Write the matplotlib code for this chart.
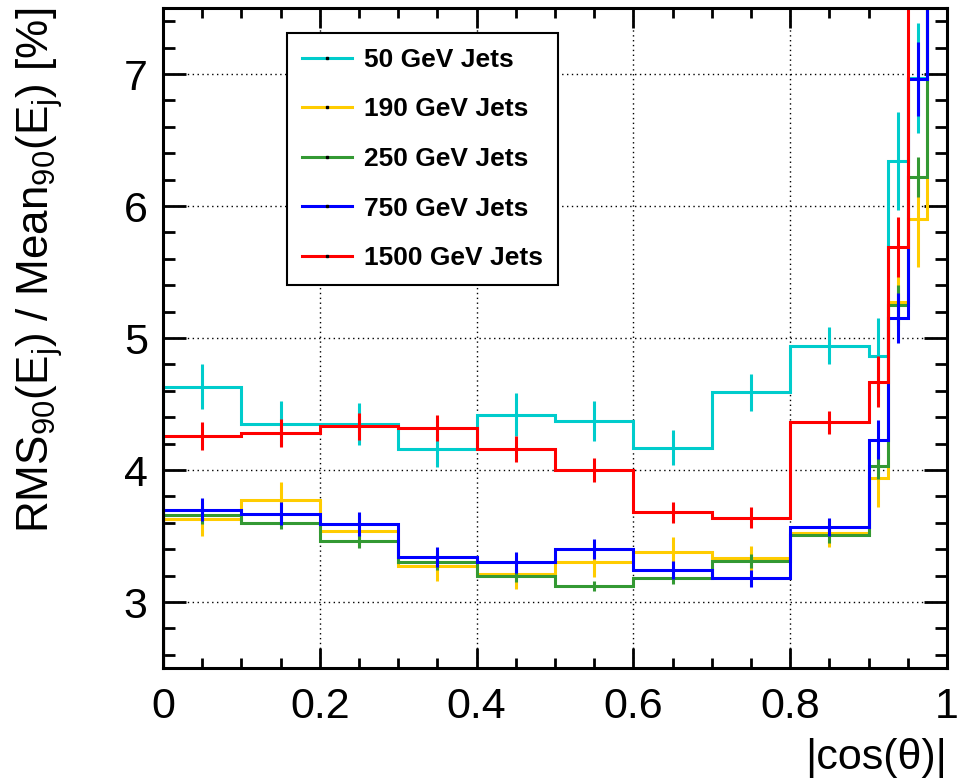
import numpy as np
import matplotlib
matplotlib.use("Agg")
import matplotlib.pyplot as plt
from matplotlib.lines import Line2D
from matplotlib.ticker import MultipleLocator, FuncFormatter

plt.rcParams['font.family'] = ['Liberation Sans', 'DejaVu Sans']
plt.rcParams['mathtext.fontset'] = 'custom'
plt.rcParams['mathtext.rm'] = 'Liberation Sans'
plt.rcParams['mathtext.it'] = 'Liberation Sans:italic'

# bin edges in |cos(theta)|, finer binning in the forward region
edges = [0.0, 0.1, 0.2, 0.3, 0.4, 0.5, 0.6, 0.7, 0.8, 0.9, 0.925, 0.95, 0.975, 1.0]

labels = ["50 GeV Jets", "190 GeV Jets", "250 GeV Jets", "750 GeV Jets", "1500 GeV Jets"]
colors = ["#00CCCC", "#FFCC00", "#339933", "#0000FF", "#FF0000"]

res_50 = [4.63, 4.35, 4.35, 4.16, 4.42, 4.37, 4.17, 4.59, 4.94, 4.86, 6.34, 6.97, 8.0]
err_50 = [0.17, 0.17, 0.16, 0.14, 0.16, 0.15, 0.13, 0.14, 0.14, 0.29, 0.37, 0.42, 0.5]
res_190 = [3.63, 3.77, 3.54, 3.27, 3.21, 3.30, 3.38, 3.33, 3.52, 3.94, 5.27, 5.90, 8.0]
err_190 = [0.13, 0.14, 0.12, 0.11, 0.11, 0.11, 0.11, 0.095, 0.10, 0.22, 0.20, 0.36, 0.5]
res_250 = [3.66, 3.60, 3.46, 3.30, 3.20, 3.12, 3.18, 3.31, 3.51, 4.03, 5.25, 6.22, 8.0]
err_250 = [0.07, 0.05, 0.05, 0.06, 0.05, 0.04, 0.04, 0.05, 0.06, 0.10, 0.15, 0.15, 0.3]
res_750 = [3.70, 3.67, 3.59, 3.34, 3.30, 3.40, 3.24, 3.18, 3.57, 4.23, 5.15, 6.96, 8.0]
err_750 = [0.09, 0.09, 0.09, 0.076, 0.08, 0.075, 0.067, 0.063, 0.07, 0.15, 0.19, 0.28, 0.4]
res_1500 = [4.26, 4.28, 4.33, 4.32, 4.16, 4.00, 3.68, 3.64, 4.36, 4.67, 5.69, 8.5, 9.0]
err_1500 = [0.106, 0.108, 0.10, 0.10, 0.10, 0.093, 0.08, 0.078, 0.085, 0.19, 0.23, 0.4, 0.5]

values = [res_50, res_190, res_250, res_750, res_1500]
errors = [err_50, err_190, err_250, err_750, err_1500]

ylo, yhi = 2.5, 7.5

fig = plt.figure(figsize=(9.67, 7.78), dpi=100)
ax = fig.add_axes([163/967, 1 - 668/778, 784/967, 660/778])

edges_a = np.array(edges)
centers = 0.5 * (edges_a[:-1] + edges_a[1:])

for i in range(len(values)):
    v = values[i]
    z = 3 + i
    ax.stairs(v, edges, color=colors[i], lw=2.2, baseline=None, zorder=z)
    ax.plot([edges[0], edges[0]], [ylo, v[0]], color=colors[i], lw=2.2, zorder=z)
    ax.errorbar(centers, v, yerr=errors[i], fmt='none', ecolor=colors[i],
                elinewidth=2.2, capsize=0, zorder=z)

ax.set_xlim(0, 1)
ax.set_ylim(ylo, yhi)

ax.xaxis.set_major_locator(MultipleLocator(0.2))
ax.xaxis.set_minor_locator(MultipleLocator(0.05))
ax.yaxis.set_major_locator(MultipleLocator(1))
ax.yaxis.set_minor_locator(MultipleLocator(0.2))
ax.xaxis.set_major_formatter(FuncFormatter(lambda x, p: '%g' % round(x, 3)))
ax.yaxis.set_major_formatter(FuncFormatter(lambda y, p: '%g' % y))

ax.tick_params(which='both', direction='in', top=True, right=True, width=2, labelsize=31)
ax.tick_params(axis='x', which='major', length=14.3, pad=14)
ax.tick_params(axis='x', which='minor', length=7.2)
ax.tick_params(axis='y', which='major', length=16.5, pad=11)
ax.tick_params(axis='y', which='minor', length=8.5)
for s in ax.spines.values():
    s.set_linewidth(2.2)
    s.set_zorder(10)

ax.set_axisbelow(True)
ax.grid(which='major', color='black', lw=1, ls=(0, (1, 2.5)))

fig.text(40/967, 1 - 8/778, r'RMS$_{90}$(E$_{\mathrm{j}}$) / Mean$_{90}$(E$_{\mathrm{j}}$) [%]',
         rotation=90, ha='center', va='top', fontsize=31.7)
fig.text(947/967, 1 - 738/778, '|cos(θ)|', ha='right', va='top', fontsize=31)

handles = [Line2D([], [], color=c, lw=2.2, marker='s', ms=1.5, mfc='k', mec='k') for c in colors]
leg = ax.legend(handles, labels, loc='upper left', bbox_to_anchor=(287/967, 1 - 33/778),
                bbox_transform=fig.transFigure, borderaxespad=0, fancybox=False,
                edgecolor='black', framealpha=1, numpoints=1,
                prop={'weight': 'bold', 'size': 19}, handlelength=1.9,
                handletextpad=0.45, labelspacing=0.97, borderpad=0.56)
leg.get_frame().set_linewidth(1.5)
leg.set_zorder(20)

fig.savefig("out.png", dpi=100)
